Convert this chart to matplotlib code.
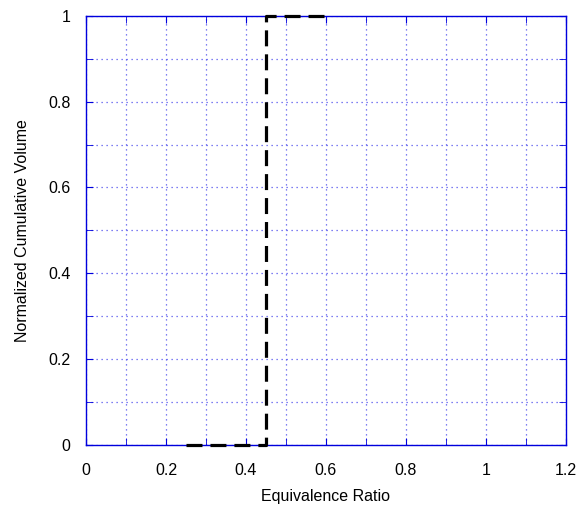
import matplotlib
matplotlib.use("Agg")
import matplotlib.pyplot as plt
import numpy as np

plt.rcParams['font.family'] = ['Liberation Sans', 'DejaVu Sans']

phi = [0.25, 0.45, 0.45, 0.60]
cumvol = [0.0, 0.0, 1.0, 1.0]
xticks = [0, 0.2, 0.4, 0.6, 0.8, 1.0, 1.2]
xticklabels = ['0', '0.2', '0.4', '0.6', '0.8', '1', '1.2']
yticks = [0, 0.2, 0.4, 0.6, 0.8, 1.0]
yticklabels = ['0', '0.2', '0.4', '0.6', '0.8', '1']

fig = plt.figure(figsize=(5.81, 5.09), dpi=100)
ax = fig.add_axes([0.148, 0.126, 0.826, 0.843])
ax.plot(phi, cumvol, color='black', lw=2.3, dashes=(5, 2.5), clip_on=False, zorder=5)
ax.set_xlim(0, 1.2)
ax.set_ylim(0, 1)
ax.set_xticks(xticks)
ax.set_xticklabels(xticklabels)
ax.set_yticks(yticks)
ax.set_yticklabels(yticklabels)
ax.set_xticks(np.arange(0.1, 1.2, 0.2), minor=True)
ax.set_yticks(np.arange(0.1, 1.0, 0.2), minor=True)
blue = '#0000dd'
for s in ax.spines.values():
    s.set_color(blue)
    s.set_linewidth(1.0)
ax.tick_params(which='both', direction='in', color=blue, top=True, right=True, length=5, labelsize=11.5)
ax.tick_params(axis='x', pad=13)
ax.tick_params(axis='y', pad=11)
ax.grid(which='both', color='#5555ee', linestyle=(0, (1, 3)), linewidth=0.9)
ax.set_xlabel('Equivalence Ratio', fontsize=11.5, labelpad=8)
ax.set_ylabel('Normalized Cumulative Volume', fontsize=11.5, labelpad=13)
fig.savefig('out.png', dpi=100)
